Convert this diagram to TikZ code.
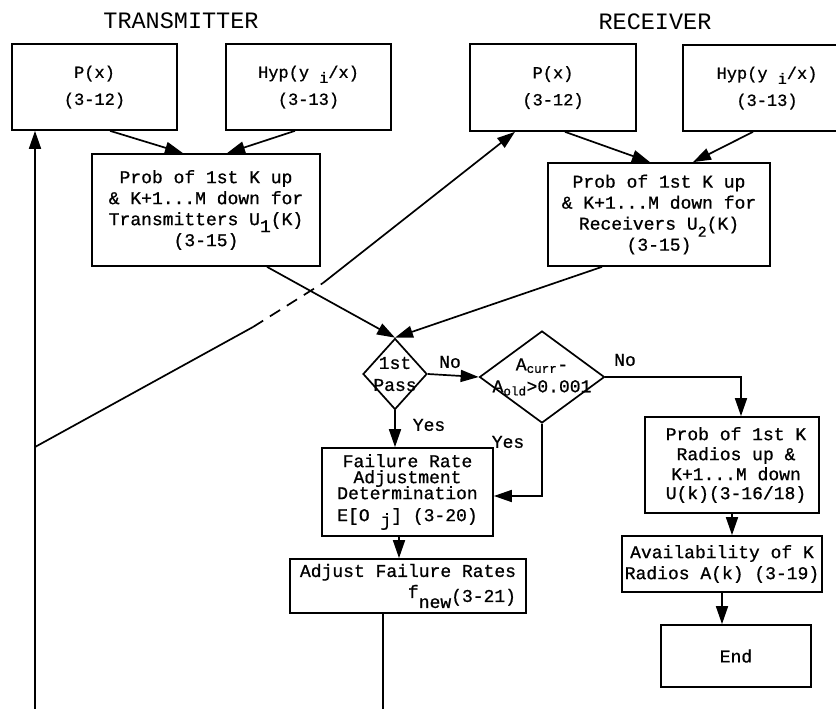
\documentclass[tikz,border=0pt]{standalone}
\usepackage{fontspec}
\newfontfamily\cour{Liberation Mono}
\newfontfamily\courb{Liberation Mono}[FakeBold=0.9]
\usetikzlibrary{arrows.meta,shapes.geometric}

\tikzset{
  box/.style={draw, line width=1.7pt, inner sep=0pt, align=center,
    font=\courb\fontsize{18}{21}\selectfont},
  topbox/.style={box, font=\courb\fontsize{17}{20}\selectfont},
  dia/.style={draw, shape=diamond, line width=1.7pt, inner sep=0pt},
  conn/.style={line width=1.7pt, -{Triangle[length=18pt,width=12pt]}},
  wire/.style={line width=1.7pt},
  title/.style={font=\cour\fontsize{23.5}{26}\selectfont},
  lab/.style={font=\courb\fontsize{18}{22}\selectfont, align=center},
}

\begin{document}
\begin{tikzpicture}[x=1pt,y=-1pt]
\clip (0,0) rectangle (836,709);

% column titles
\node[title] (tt) at (181,21) {TRANSMITTER};
\node[title] (rt) at (655,22) {RECEIVER};

% transmitter side
\node[topbox, minimum width=165pt, minimum height=86pt] (pT) at (94.5,87)
  {P(x)\\[7pt](3-12)};
\node[topbox, minimum width=165pt, minimum height=86pt] (hT) at (308.5,87)
  {Hyp(y \raisebox{-5pt}{\fontsize{15}{15}\selectfont i}/x)\\[7pt](3-13)};
\node[box, minimum width=228pt, minimum height=112pt] (uT) at (206,210)
  {Prob of 1st K up\\\& K+1...M down for\\Transmitters U\raisebox{-7pt}{1}(K)\\(3-15)};

% receiver side
\node[topbox, minimum width=166pt, minimum height=87pt] (pR) at (553,87.5)
  {P(x)\\[7pt](3-12)};
\node[topbox, minimum width=168pt, minimum height=86pt] (hR) at (767,88)
  {Hyp(y \raisebox{-5pt}{\fontsize{15}{15}\selectfont i}/x)\\[7pt](3-13)};
\node[box, minimum width=222pt, minimum height=103pt] (uR) at (659,214.5)
  {Prob of 1st K up\\\& K+1...M down for\\Receivers U\raisebox{-7pt}{\fontsize{15}{15}\selectfont 2}(K)\\(3-15)};

% decisions
\node[dia, minimum width=64pt, minimum height=71pt,
  label={[lab]center:1st\\Pass}] (p1) at (395,374) {};
\node[dia, minimum width=125pt, minimum height=92pt,
  label={[lab]center:A\textsubscript{curr}-\\A\textsubscript{old}>0.001}] (d2) at (542,377) {};

% iteration branch
\node[box, minimum width=171pt, minimum height=88pt] (fr) at (407.5,492)
  {Failure Rate\\[-5pt]Adjustment\\[-5pt]Determination\\[1pt]E[O \raisebox{-5pt}{j}] (3-20)};
\node[box, minimum width=236pt, minimum height=54pt, align=right] (adj) at (408,586)
  {Adjust Failure Rates\\f\raisebox{-10pt}{new}\raisebox{-4pt}{(3-21)}};

% result branch
\node[box, minimum width=174pt, minimum height=96pt] (pk) at (732,465)
  {\hspace*{8pt}Prob of 1st K\\[-1pt]\hspace*{8pt}Radios up \&\\[-1pt]\hspace*{8pt}K+1...M down\\[-2pt]\hspace*{8pt}U(k)(3-16/18)};
\node[box, minimum width=200pt, minimum height=56pt] (av) at (722,564)
  {Availability of K\\Radios A(k) (3-19)};
\node[box, minimum width=150pt, minimum height=62pt] (end) at (736,656) {End};

% branch labels
\node[lab] (no1) at (450,362) {No};
\node[lab] (no2) at (625,360) {No};
\node[lab] (ye1) at (429,425) {Yes};
\node[lab] (ye2) at (508,442) {Yes};

% free ends of the feedback lines
\coordinate (lfoot) at (35,709);
\coordinate (ljoin) at (35,447);
\coordinate (db) at (253,327);
\coordinate (de) at (323,283);
\coordinate (afoot) at (383,709);

% connectors
\draw[conn] ([xshift=15.5pt]pT.south) -- ([xshift=-23pt]uT.north);
\draw[conn] ([xshift=-13.5pt]hT.south) -- ([xshift=21pt]uT.north);
\draw[conn] ([xshift=12pt]pR.south) -- ([xshift=-9pt]uR.north);
\draw[conn] ([xshift=-14pt]hR.south) -- ([xshift=34pt]uR.north);
\draw[conn] ([xshift=61pt]uT.south) -- (p1.north);
\draw[conn] ([xshift=-57pt]uR.south) -- (p1.north);
\draw[conn] (p1.east) -- (d2.west);
\draw[conn] (d2.east) -| ([xshift=9pt]pk.north);
\draw[conn] (p1.south) -- (p1.south |- fr.north);
\draw[conn] (d2.south) |- ([yshift=-4pt]fr.east);
\draw[conn] ([xshift=-8.5pt]fr.south) -- ([xshift=-8.5pt]fr.south |- adj.north);
\draw[conn] (pk.south) -- (pk.south |- av.north);
\draw[conn] (av.south) -- (av.south |- end.north);
\draw[wire] (afoot |- adj.south) -- (afoot);
\draw[conn] (lfoot) -- (lfoot |- pT.south);
\draw[wire] (ljoin) -- (db);
\draw[wire, dash pattern=on 12pt off 8pt] (db) -- (de);
\draw[conn] (de) -- ([xshift=-38pt]pR.south);
\end{tikzpicture}
\end{document}
